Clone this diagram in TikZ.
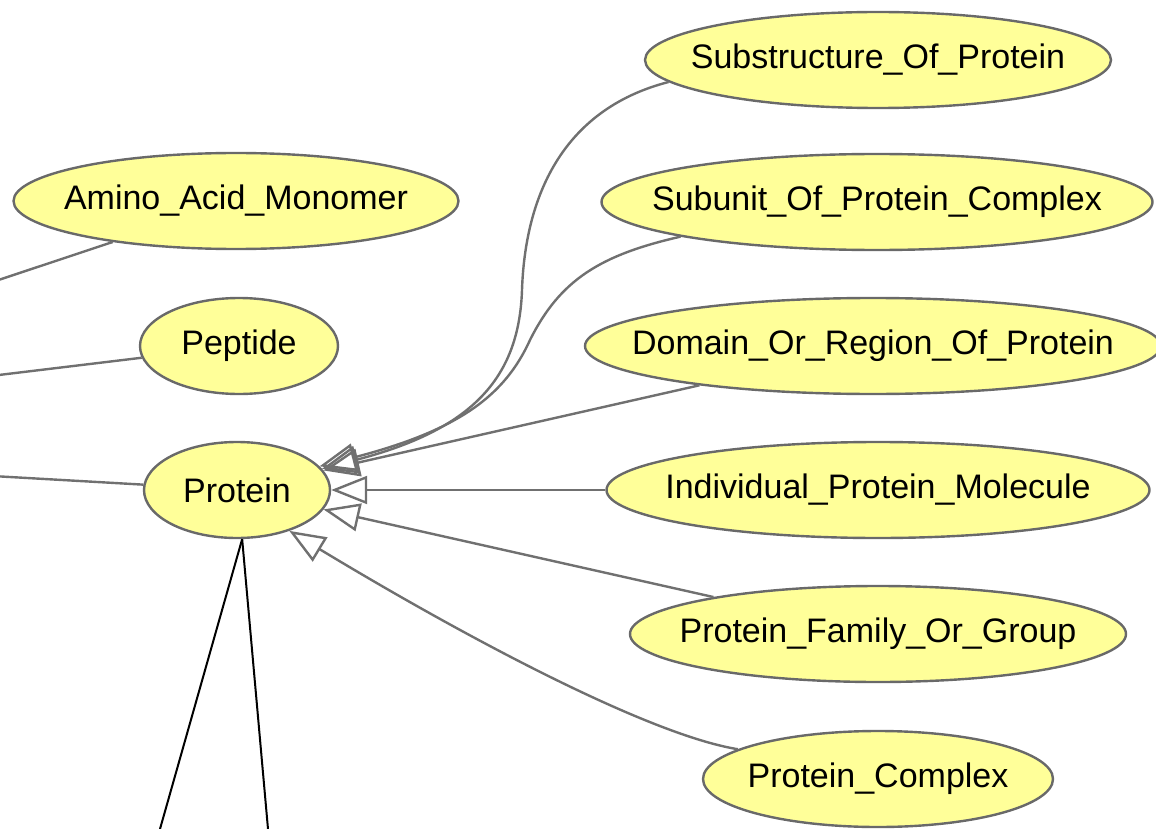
\documentclass[tikz,border=0pt]{standalone}
\usepackage{fontspec}
\setmainfont{Liberation Sans}
\usetikzlibrary{shapes.geometric,arrows.meta}
\definecolor{nodefill}{RGB}{255,255,153}
\definecolor{nodeline}{RGB}{105,105,105}
\definecolor{edgeline}{RGB}{112,112,112}
\newcommand{\clsname}[1]{\makebox[0pt]{#1}}
\tikzset{
  cls/.style={ellipse, draw=nodeline, line width=2.4pt, fill=nodefill,
    inner sep=0pt, minimum height=96pt,
    font=\fontsize{34}{38}\selectfont},
  isa/.style={draw=edgeline, line width=2.4pt,
    -{Triangle[open, length=36pt, width=28pt]}},
  link/.style={draw=edgeline, line width=2.4pt},
  plain/.style={draw=black, line width=2pt},
}
\begin{document}
\begin{tikzpicture}[x=1pt, y=-1pt]
\useasboundingbox (0,0) rectangle (1156,829);
\clip (0,0) rectangle (1156,829);

% class nodes
\node[cls, minimum width=466pt] (sub)  at (878,60)  {\clsname{Substructure\_Of\_Protein}};
\node[cls, minimum width=445pt] (amino) at (236,201) {\clsname{Amino\_Acid\_Monomer}};
\node[cls, minimum width=551pt] (subu) at (877,202) {\clsname{Subunit\_Of\_Protein\_Complex}};
\node[cls, minimum width=198pt] (pep)  at (239,346) {\clsname{Peptide}};
\node[cls, minimum width=576pt] (dom)  at (873,346) {\clsname{Domain\_Or\_Region\_Of\_Protein}};
\node[cls, minimum width=186pt] (prot) at (237,490) {\clsname{Protein}};
\node[cls, minimum width=543pt] (ind)  at (878,490) {\clsname{Individual\_Protein\_Molecule}};
\node[cls, minimum width=496pt] (fam)  at (878,634) {\clsname{Protein\_Family\_Or\_Group}};
\node[cls, minimum width=350pt] (cx)   at (878,779) {\clsname{Protein\_Complex}};

% links leaving the visible area
\coordinate (offA) at (-200,346);
\coordinate (offP) at (-200,399);
\coordinate (offR) at (-200,465);
\coordinate (downL) at (160,829);
\coordinate (downR) at (268,829);
\path[link] (amino) -- (offA);
\path[link] (pep) -- (offP);
\path[link] (prot) -- (offR);

% subclass links into Protein
\path[isa] (sub.186) .. controls (560,110) and (525,200) .. (522,290)
  .. controls (519,380) and (470,430) .. (prot.14);
\path[isa] (subu.190) .. controls (600,255) and (560,280) .. (530,340)
  .. controls (505,395) and (460,430) .. (prot.16);
\path[isa] (dom) -- (prot);
\path[isa] (ind) -- (prot);
\path[isa] (fam) -- (prot);
\path[isa] (cx.168) .. controls (650,735) and (470,640) .. (prot.-38);

% black lines below Protein
\path[plain] (prot.-84) -- (downL);
\path[plain] (prot.-84) -- (downR);
\end{tikzpicture}
\end{document}
